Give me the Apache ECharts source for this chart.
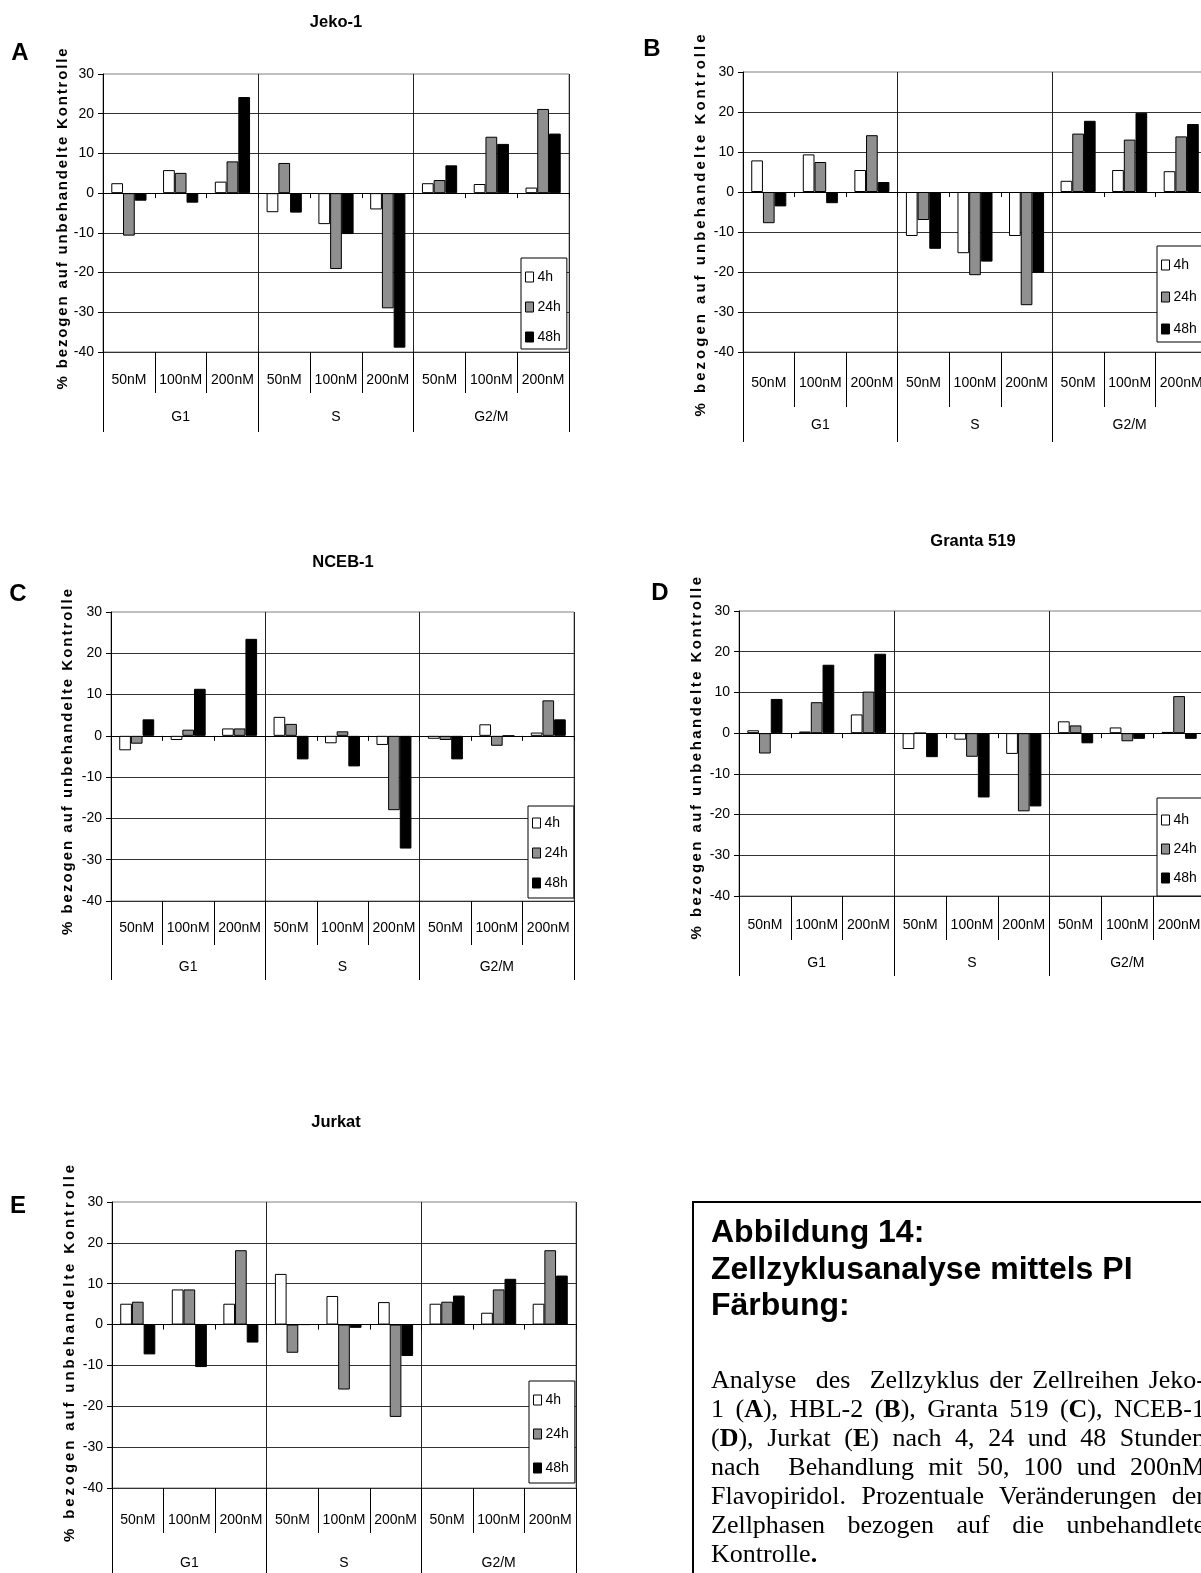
<!DOCTYPE html>
<html>
<head>
<meta charset="utf-8">
<script src="https://cdn.jsdelivr.net/npm/echarts@6/dist/echarts.min.js"></script>
<style>
  html, body { margin: 0; padding: 0; background: #fff; }
  body { width: 1201px; height: 1573px; overflow: hidden; position: relative; }
  #chart { position: absolute; left: 0; top: 0; width: 1201px; height: 1573px; }
  .ylab { position: absolute; white-space: nowrap; font-weight: bold; color: #000;
          font-family: "Liberation Sans", Arial, sans-serif; font-size: 15px; line-height: 15px; }
  #capbox { position: absolute; left: 692px; top: 1201px; width: 700px; height: 500px;
            border-left: 2px solid #000; border-top: 2px solid #000; box-sizing: border-box; }
  #caphead { position: absolute; left: 711px; top: 1213px; width: 500px;
             font-family: "Liberation Sans", Arial, sans-serif; font-weight: bold;
             font-size: 32px; line-height: 36.5px; color: #000; }
  #capbody { position: absolute; left: 711px; top: 1365px; width: 494px;
             font-family: "Liberation Serif", "Times New Roman", serif;
             font-size: 26px; line-height: 29px; color: #000; }
  #capbody .j { text-align: justify; text-align-last: justify; }
  #capbody .l { text-align: left; }
</style>
</head>
<body>
<div id="chart"></div>
<div id="capbox"></div>
<div id="caphead">Abbildung 14:<br>Zellzyklusanalyse mittels PI<br>Färbung:</div>
<div id="capbody">
  <div class="j">Analyse&nbsp; des&nbsp; Zellzyklus der Zellreihen Jeko-</div>
  <div class="j">1 (<b>A</b>), HBL-2 (<b>B</b>), Granta 519 (<b>C</b>), NCEB-1</div>
  <div class="j">(<b>D</b>), Jurkat (<b>E</b>) nach 4, 24 und 48 Stunden</div>
  <div class="j">nach&nbsp; Behandlung mit 50, 100 und 200nM</div>
  <div class="j">Flavopiridol. Prozentuale Veränderungen der</div>
  <div class="j">Zellphasen bezogen auf die unbehandlete</div>
  <div class="l">Kontrolle<b>.</b></div>
</div>
<script>
// ---- categories ----
const concentrations = ['50nM', '100nM', '200nM', '50nM', '100nM', '200nM', '50nM', '100nM', '200nM'];
const phases = ['G1', 'S', 'G2/M'];
const timepoints = ['4h', '24h', '48h'];
const yAxisTitle = '% bezogen auf unbehandelte Kontrolle';

// ---- % change vs. untreated control ----
// Jeko-1
const jeko4h  = [2.5, 5.8, 2.9, -4.8, -7.8, -4.1, 2.5, 2.3, 1.4];
const jeko24h = [-10.7, 5.1, 8.0, 7.6, -19.1, -29.0, 3.3, 14.2, 21.2];
const jeko48h = [-1.9, -2.4, 24.2, -4.9, -10.3, -38.9, 7.0, 12.4, 15.0];
// HBL-2
const hbl4h  = [7.9, 9.4, 5.5, -11.0, -15.3, -11.0, 2.8, 5.5, 5.2];
const hbl24h = [-7.8, 7.5, 14.2, -7.0, -20.8, -28.3, 14.6, 13.1, 13.9];
const hbl48h = [-3.6, -2.8, 2.5, -14.2, -17.4, -20.2, 17.8, 19.8, 17.0];
// NCEB-1
const nceb4h  = [-3.5, -1.0, 1.8, 4.6, -1.8, -2.2, -0.7, 2.8, 0.8];
const nceb24h = [-1.9, 1.5, 1.8, 2.9, 1.1, -18.0, -1.0, -2.4, 8.6];
const nceb48h = [4.0, 11.4, 23.5, -5.7, -7.4, -27.3, -5.7, 0, 4.0];
// Granta 519
const granta4h  = [0.7, 0.4, 4.6, -3.9, -1.6, -5.1, 2.9, 1.4, 0.3];
const granta24h = [-5.0, 7.6, 10.2, 0, -5.8, -19.2, 1.9, -2.0, 9.1];
const granta48h = [8.4, 16.8, 19.5, -5.9, -15.8, -18.0, -2.5, -1.4, -1.4];
// Jurkat
const jurkat4h  = [5.1, 8.6, 5.1, 12.4, 7.0, 5.5, 5.1, 2.9, 5.1];
const jurkat24h = [5.6, 8.6, 18.2, -6.9, -15.9, -22.6, 5.6, 8.6, 18.2];
const jurkat48h = [-7.3, -10.4, -4.4, 0, -0.8, -7.7, 7.1, 11.2, 12.0];

// ---- font selection ----
function fontAvailable(name) {
  const ctx = document.createElement('canvas').getContext('2d');
  const s = '200nM 100nM Kontrolle 4h';
  ctx.font = '16px monospace';
  const w1 = ctx.measureText(s).width;
  ctx.font = '16px "' + name + '", monospace';
  return Math.abs(ctx.measureText(s).width - w1) > 0.5;
}
const NARROW = fontAvailable('Liberation Sans Narrow');
const AXIS_FONT = NARROW ? 'Liberation Sans Narrow' : 'Liberation Sans';
const AXIS_SIZE = NARROW ? 16 : 14;
const TITLE_SIZE = NARROW ? 19 : 16.5;

const barColors = ['#ffffff', '#8f8f8f', '#000000'];

// ---- panel layout ----
const panels = [
  { title: 'Jeko-1', letter: 'A', values: [jeko4h, jeko24h, jeko48h],
    grid: { left: 103, top: 74, width: 466, height: 278 },
    concLabel: 28, concSep: 41, groupLabel: 65, groupSep: 80,
    legend: { left: 521, top: 258, padding: [11, 6, 4, 4], gap: 14 },
    titlePos: [336, 22], letterPos: [20, 53], ylab: [61, 218, 343] },
  { title: '', letter: 'B', values: [hbl4h, hbl24h, hbl48h],
    grid: { left: 743, top: 72, width: 464, height: 280 },
    concLabel: 31, concSep: 55, groupLabel: 73, groupSep: 90,
    legend: { left: 1157, top: 246, padding: [11, 6, 5, 4], gap: 16 },
    titlePos: [0, 0], letterPos: [652, 49], ylab: [699, 224, 385] },
  { title: 'NCEB-1', letter: 'C', values: [nceb4h, nceb24h, nceb48h],
    grid: { left: 111, top: 612, width: 463, height: 289 },
    concLabel: 27, concSep: 44, groupLabel: 66, groupSep: 79,
    legend: { left: 528, top: 806, padding: [9, 6, 7, 4], gap: 14 },
    titlePos: [343, 562], letterPos: [18, 594], ylab: [66, 761, 348] },
  { title: 'Granta 519', letter: 'D', values: [granta4h, granta24h, granta48h],
    grid: { left: 739, top: 611, width: 466, height: 285 },
    concLabel: 29, concSep: 44, groupLabel: 67, groupSep: 80,
    legend: { left: 1157, top: 798, padding: [14, 6, 10, 4], gap: 13 },
    titlePos: [973, 541], letterPos: [660, 593], ylab: [695, 757, 365] },
  { title: 'Jurkat', letter: 'E', values: [jurkat4h, jurkat24h, jurkat48h],
    grid: { left: 112, top: 1202, width: 464, height: 286 },
    concLabel: 32, concSep: 45, groupLabel: 75, groupSep: 90,
    legend: { left: 529, top: 1381, padding: [11, 6, 7, 4], gap: 18 },
    titlePos: [336, 1122], letterPos: [18, 1206], ylab: [68, 1352, 380] }
];

const axisText = { fontFamily: AXIS_FONT, fontSize: AXIS_SIZE, color: '#000' };
const option = {
  animation: false,
  backgroundColor: '#fff',
  grid: [], xAxis: [], yAxis: [], series: [], legend: [], graphic: []
};

panels.forEach(function (p, i) {
  option.grid.push(Object.assign({
    show: true, borderColor: '#808080', borderWidth: 1,
    backgroundColor: 'transparent', containLabel: false, outerBoundsMode: 'none'
  }, p.grid));

  option.yAxis.push({
    gridIndex: i, type: 'value', min: -40, max: 30, interval: 10,
    axisLine: { show: true, onZero: false, lineStyle: { color: '#000', width: 1 } },
    axisTick: { show: true, length: 5, lineStyle: { color: '#000' } },
    axisLabel: Object.assign({ margin: 9 }, axisText),
    splitLine: { show: true, showMaxLine: false, lineStyle: { color: '#333', width: 1 } }
  });

  // concentration row under the plot
  option.xAxis.push({
    gridIndex: i, type: 'category', data: concentrations, position: 'bottom',
    axisLine: { show: false, onZero: false },
    axisTick: { show: true, interval: 0, length: p.concSep, lineStyle: { color: '#000' } },
    axisLabel: Object.assign({ interval: 0, margin: p.concLabel, verticalAlign: 'middle' }, axisText),
    splitLine: { show: false }
  });
  // cell-cycle phase row with separators through the plot
  option.xAxis.push({
    gridIndex: i, type: 'category', data: phases, position: 'bottom',
    axisLine: { show: false, onZero: false },
    axisTick: { show: true, interval: 0, length: p.groupSep, lineStyle: { color: '#000' } },
    axisLabel: Object.assign({ interval: 0, margin: p.groupLabel, verticalAlign: 'middle' }, axisText),
    splitLine: { show: true, interval: 0, lineStyle: { color: '#222', width: 1 } }
  });
  // baseline at zero with small ticks
  option.xAxis.push({
    gridIndex: i, type: 'category', data: concentrations, position: 'bottom',
    axisLine: { show: true, onZero: true, lineStyle: { color: '#000', width: 1 } },
    axisTick: { show: true, interval: 0, length: 5, lineStyle: { color: '#000' } },
    axisLabel: { show: false },
    splitLine: { show: false }
  });

  timepoints.forEach(function (t, k) {
    option.series.push({
      type: 'bar', name: t, xAxisIndex: i * 3, yAxisIndex: i,
      data: p.values[k],
      barGap: '0%', barCategoryGap: '32%',
      itemStyle: { color: barColors[k], borderColor: '#000', borderWidth: 1 },
      emphasis: { disabled: true }
    });
  });

  option.legend.push({
    orient: 'vertical', left: p.legend.left, top: p.legend.top,
    data: timepoints, icon: 'rect', itemWidth: 8, itemHeight: 10,
    itemGap: p.legend.gap, padding: p.legend.padding,
    borderColor: '#000', borderWidth: 1, borderRadius: 0, backgroundColor: '#fff',
    selectedMode: false,
    itemStyle: { borderColor: '#000', borderWidth: 1 },
    textStyle: { fontFamily: AXIS_FONT, fontSize: AXIS_SIZE, lineHeight: 16, color: '#000', padding: [0, 0, 0, -1] }
  });

  if (p.title) {
    option.graphic.push({
      type: 'text', x: p.titlePos[0], y: p.titlePos[1], silent: true,
      style: { text: p.title, fill: '#000', font: 'bold ' + TITLE_SIZE + 'px "' + AXIS_FONT + '"',
               align: 'center', verticalAlign: 'middle', textAlign: 'center', textVerticalAlign: 'middle' }
    });
  }
  option.graphic.push({
    type: 'text', x: p.letterPos[0], y: p.letterPos[1], silent: true,
    style: { text: p.letter, fill: '#000', font: 'bold 24px "Liberation Sans"',
             align: 'center', verticalAlign: 'middle', textAlign: 'center', textVerticalAlign: 'middle' }
  });
});

const chart = echarts.init(document.getElementById('chart'), null, { renderer: 'canvas' });
chart.setOption(option);

// rotated, letter-spaced y-axis titles
(function () {
  const ctx = document.createElement('canvas').getContext('2d');
  ctx.font = 'bold 15px "Liberation Sans"';
  const w = ctx.measureText(yAxisTitle).width;
  panels.forEach(function (p) {
    const span = p.ylab[2];
    const spacing = (span - w) / yAxisTitle.length;
    const d = document.createElement('div');
    d.className = 'ylab';
    d.textContent = yAxisTitle;
    d.style.letterSpacing = spacing.toFixed(2) + 'px';
    d.style.left = p.ylab[0] + 'px';
    d.style.top = p.ylab[1] + 'px';
    d.style.transform = 'translate(-50%, -50%) rotate(-90deg)';
    document.body.appendChild(d);
  });
})();
</script>
</body>
</html>
